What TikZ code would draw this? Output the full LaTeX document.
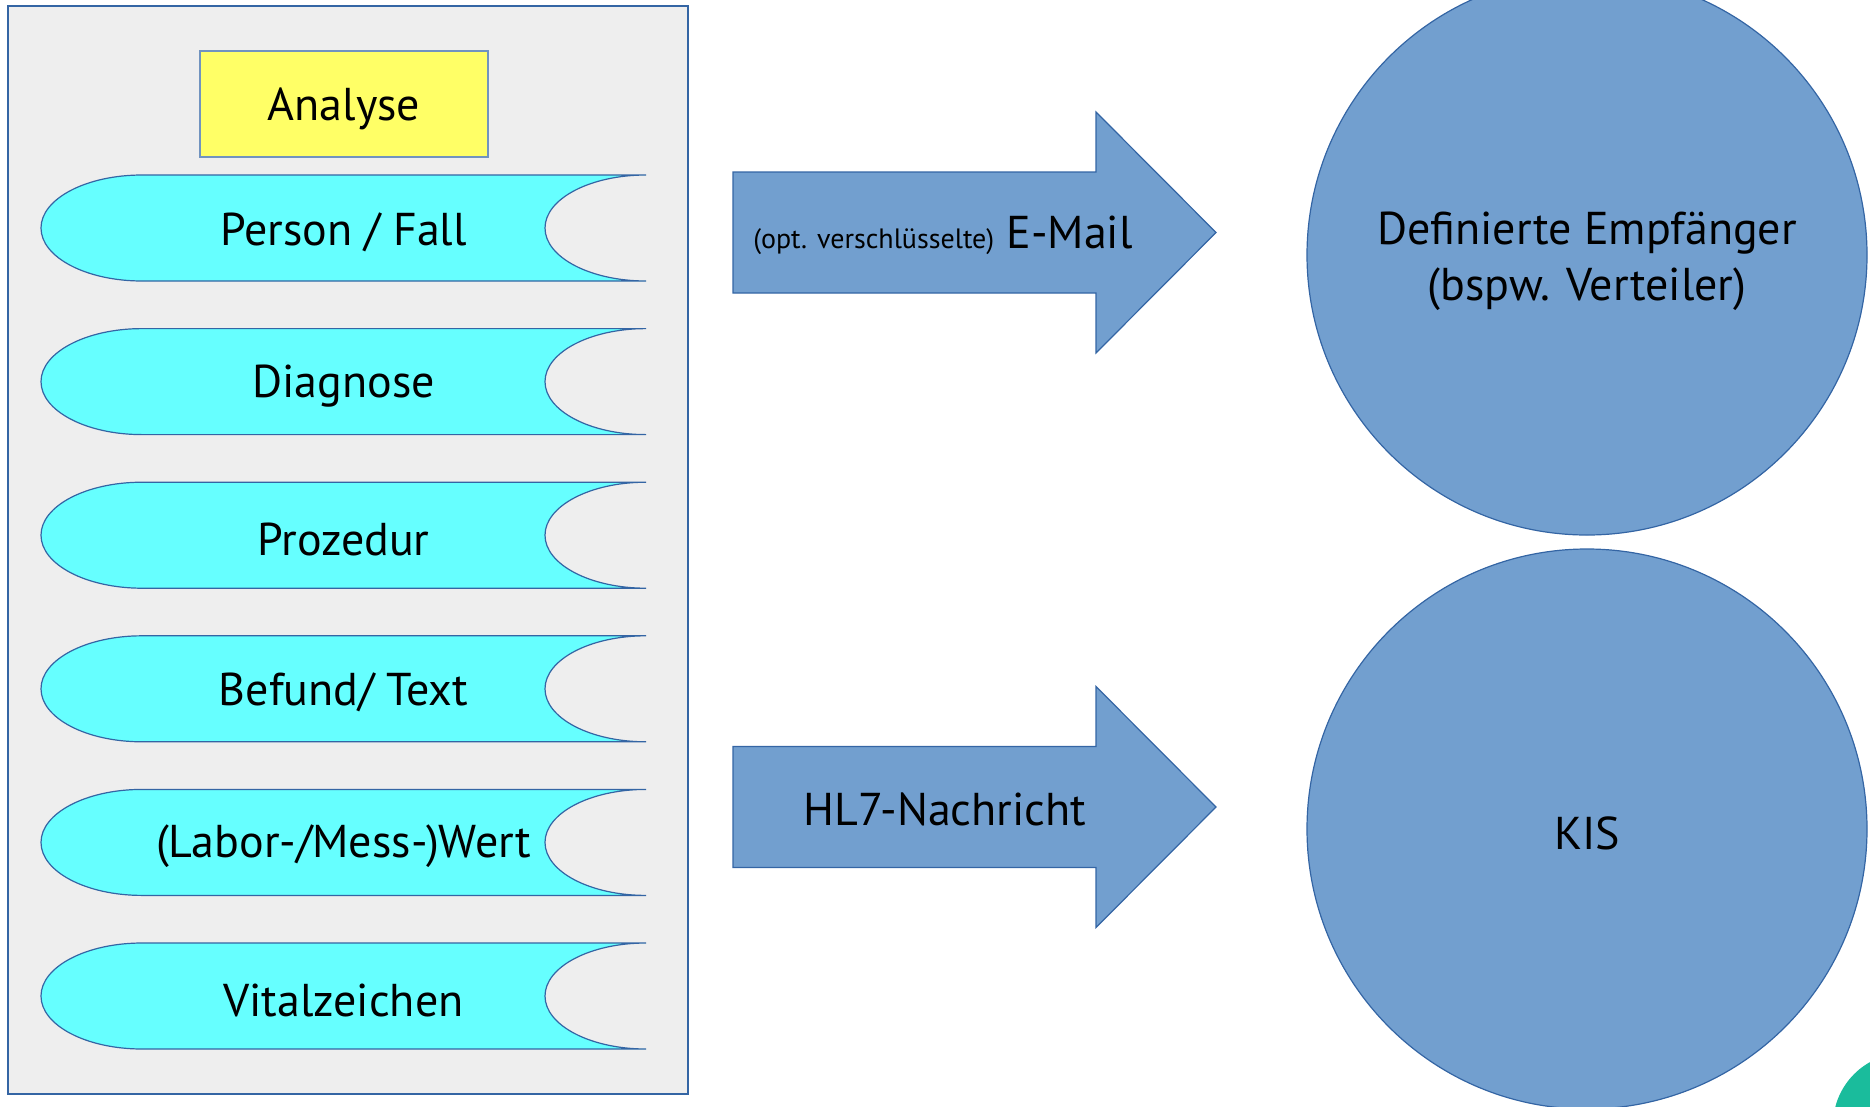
\documentclass[tikz,border=0pt]{standalone}
\usepackage{fontspec}
\setmainfont{PT Sans}
\usetikzlibrary{positioning}
\definecolor{panelgray}{HTML}{EEEEEE}
\definecolor{lineblue}{HTML}{3465A4}
\definecolor{fillblue}{HTML}{729FCF}
\definecolor{anayellow}{HTML}{FFFF66}
\definecolor{rowcyan}{HTML}{66FFFF}
\definecolor{cornergreen}{RGB}{26,188,156}

\begin{document}
\begin{tikzpicture}[
  x=1pt, y=1pt,
  every node/.style={font=\fontsize{46}{56}\selectfont, inner sep=0pt},
  panel/.style={draw=lineblue, fill=panelgray, line width=1.2pt, minimum width=680pt, minimum height=1088pt},
  ana/.style={draw=lineblue!70, fill=anayellow, line width=1.2pt, minimum width=288pt, minimum height=106pt},
  store/.style={draw=lineblue, fill=rowcyan, line width=1.2pt},
  bigarrow/.style={draw=lineblue, fill=fillblue, line width=1.2pt},
  target/.style={circle, draw=lineblue, fill=fillblue, line width=1.2pt, minimum size=560pt},
]
  \useasboundingbox (0,0) rectangle (1870,-1106);
  \clip (0,0) rectangle (1870,-1106);
  \node[panel] (panel) at (348,-550) {};
  \node[ana] (ana) at (344,-104) {};
  \node (analbl) at ([yshift=-5pt]ana.center) {Analyse};
  \foreach \t [count=\i] in {Person / Fall, Diagnose, Prozedur, Befund/ Text, (Labor-/Mess-)Wert, Vitalzeichen}{
    \pgfmathsetmacro\yc{-228-153.6*(\i-1)}
    \draw[store] (646,\yc+53) -- (142,\yc+53)
      arc[start angle=90, end angle=270, x radius=101, y radius=53] -- (646,\yc-53)
      arc[start angle=270, end angle=90, x radius=101, y radius=53] -- cycle;
    \node (row\i) at (343.5,\yc-4) {\t};
  }
  \foreach \ya in {-232.5,-807}
    \draw[bigarrow] (733,\ya+60.5) -- ++(363,0) -- ++(0,60) -- ++(120,-120.5)
      -- ++(-120,-120.5) -- ++(0,60) -- ++(-363,0) -- cycle;
  \node (mail) at (943,-235) {{\fontsize{28}{32}\selectfont (opt. verschlüsselte)} E-Mail};
  \node (hl7) at (945,-809) {HL7-Nachricht};
  \node[target] (empf) at (1587,-255) {};
  \node[align=center] (empflbl) at ([yshift=-6pt]empf.center) {Definierte Empfänger\\(bspw. Verteiler)};
  \node[target] (kis) at (1587,-829) {};
  \node (kislbl) at ([yshift=-4pt]kis.center) {KIS};
  \fill[cornergreen] (1905,-1125) circle[radius=72];
\end{tikzpicture}
\end{document}
